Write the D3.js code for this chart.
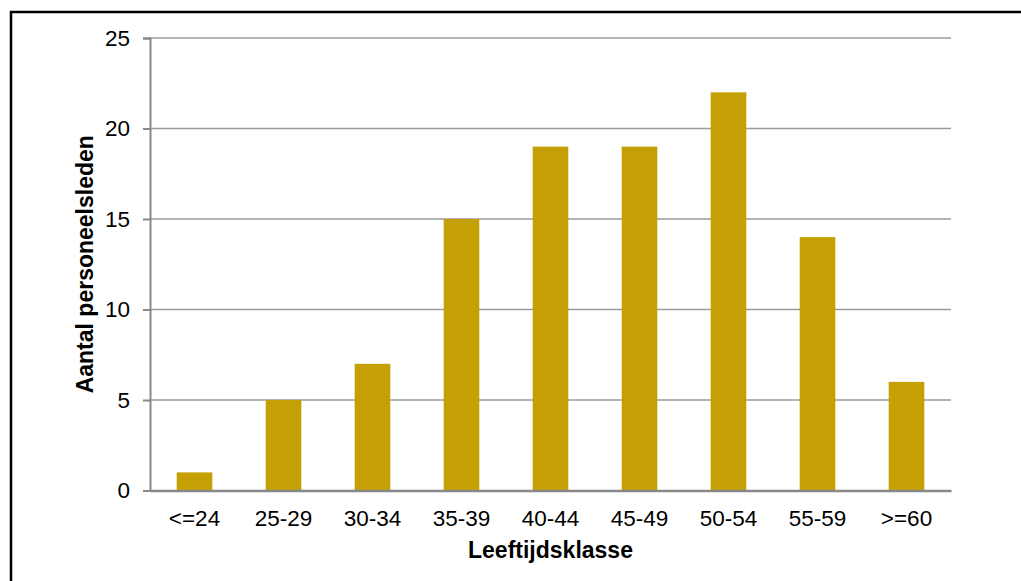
<!DOCTYPE html>
<html><head><meta charset="utf-8">
<script src="https://cdn.jsdelivr.net/npm/d3@7"></script>
<style>body{margin:0;background:#fff}svg{display:block}</style>
</head><body>
<script>
const categories = ["<=24","25-29","30-34","35-39","40-44","45-49","50-54","55-59",">=60"];
const values = [1,5,7,15,19,19,22,14,6];
const yTicks = [0,5,10,15,20,25];
const xTitle = "Leeftijdsklasse";
const yTitle = "Aantal personeelsleden";

const W = 1021, H = 581;
const svg = d3.select("body").append("svg").attr("width", W).attr("height", H);
svg.append("rect").attr("width", W).attr("height", H).attr("fill", "#fff");
svg.append("rect").attr("x", 11).attr("y", 12).attr("width", 1200).attr("height", 1000)
  .attr("fill", "none").attr("stroke", "#000").attr("stroke-width", 2.5);

const x0 = 150, x1 = 951, y0 = 490.5, y1 = 38;
const x = d3.scaleBand().domain(categories).range([x0, x1]).paddingInner(0.6).paddingOuter(0.3);
const y = d3.scaleLinear().domain([0, 25]).range([y0, y1]);
const font = "'Liberation Sans', Arial, sans-serif";

// gridlines
svg.append("g").selectAll("line").data(yTicks.filter(d => d > 0)).join("line")
  .attr("x1", x0).attr("x2", x1).attr("y1", d => y(d)).attr("y2", d => y(d))
  .attr("stroke", "#9a9a9a").attr("stroke-width", 1.5);

// bars
svg.append("g").selectAll("rect").data(values).join("rect")
  .attr("x", (d, i) => x(categories[i])).attr("width", x.bandwidth())
  .attr("y", d => y(d)).attr("height", d => y(0) - y(d))
  .attr("fill", "#C5A005");

// y axis
const yAxis = svg.append("g").attr("transform", `translate(${x0},0)`)
  .call(d3.axisLeft(y).tickValues(yTicks).tickSize(7).tickPadding(13));
yAxis.select(".domain").attr("stroke", "#888").attr("stroke-width", 2);
yAxis.selectAll(".tick line").attr("stroke", "#888").attr("stroke-width", 2);
yAxis.selectAll("text").attr("font-family", font).attr("font-size", 22.5).attr("fill", "#000");

// x axis
const xAxis = svg.append("g").attr("transform", `translate(0,${y0})`)
  .call(d3.axisBottom(x).tickSize(0).tickPadding(20));
xAxis.select(".domain").attr("stroke", "#888").attr("stroke-width", 2.5);
xAxis.selectAll("text").attr("font-family", font).attr("font-size", 22.5).attr("fill", "#000");

// titles
svg.append("text").attr("x", (x0 + x1) / 2).attr("y", 558).attr("text-anchor", "middle")
  .attr("font-family", font).attr("font-size", 23).attr("font-weight", "bold").text(xTitle);
svg.append("text").attr("transform", `translate(93,${(y0 + y1) / 2}) rotate(-90)`)
  .attr("text-anchor", "middle")
  .attr("font-family", font).attr("font-size", 23).attr("font-weight", "bold").text(yTitle);
</script>
</body></html>
